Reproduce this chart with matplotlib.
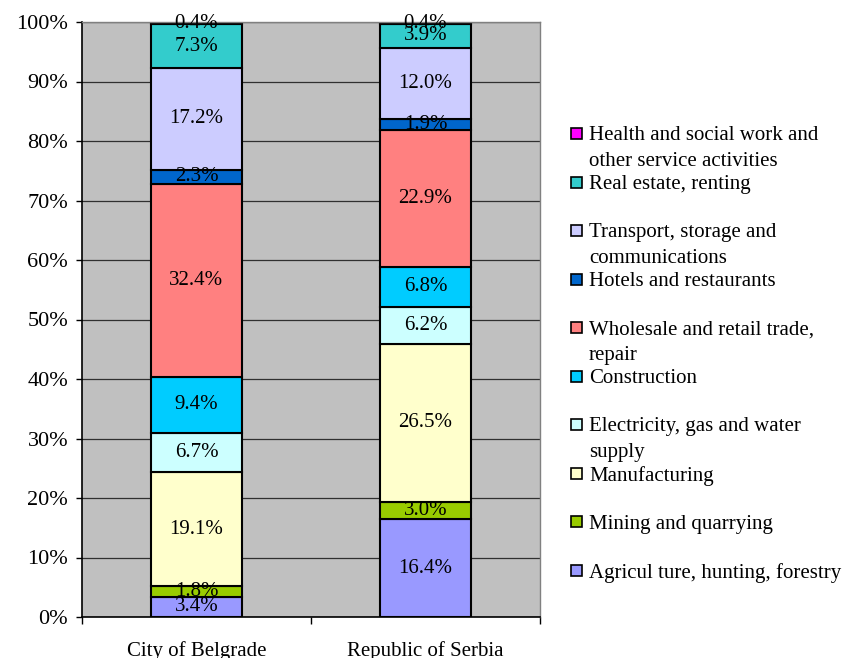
import matplotlib
matplotlib.use("Agg")
import matplotlib.pyplot as plt
from matplotlib.patches import Rectangle

plt.rcParams['font.family'] = ['Liberation Serif', 'DejaVu Serif']

regions = ["City of Belgrade", "Republic of Serbia"]
sectors = [
    "Agricul ture, hunting, forestry",
    "Mining and quarrying",
    "Manufacturing",
    "Electricity, gas and water\nsupply",
    "Construction",
    "Wholesale and retail trade,\nrepair",
    "Hotels and restaurants",
    "Transport, storage and\ncommunications",
    "Real estate, renting",
    "Health and social work and\nother service activities",
]
belgrade = [3.4, 1.8, 19.1, 6.7, 9.4, 32.4, 2.3, 17.2, 7.3, 0.4]
serbia = [16.4, 3.0, 26.5, 6.2, 6.8, 22.9, 1.9, 12.0, 3.9, 0.4]
colors = ["#9999FF", "#99CC00", "#FFFFCC", "#CCFFFF", "#00CCFF",
          "#FF8080", "#0066CC", "#CCCCFF", "#33CCCC", "#FF00FF"]
yticks = [0, 10, 20, 30, 40, 50, 60, 70, 80, 90, 100]

fig = plt.figure(figsize=(8.43, 6.58), dpi=100)
ax = fig.add_axes([82/843, 41/658, 458/843, 595/658])
ax.set_facecolor("#C0C0C0")
ax.set_axisbelow(True)
ax.yaxis.grid(True, color="#303030", linewidth=0.9)

x = [0, 1]
bottoms = [0.0, 0.0]
for i, sec in enumerate(sectors):
    vals = [belgrade[i], serbia[i]]
    ax.bar(x, vals, width=0.4, bottom=bottoms, color=colors[i],
           edgecolor="black", linewidth=1.5, zorder=2)
    for j in range(2):
        ax.text(x[j], bottoms[j] + vals[j] / 2, f"{vals[j]:.1f}%",
                ha="center", va="center", fontsize=15, zorder=3)
    bottoms = [bottoms[k] + vals[k] for k in range(2)]

ax.set_xlim(-0.5, 1.5)
ax.set_ylim(0, 100)
ax.set_yticks(yticks)
ax.set_yticklabels([f"{v}%" for v in yticks], fontsize=16)
ax.set_xticks(x)
ax.set_xticklabels(regions, fontsize=15)
ax.set_xticks([-0.5, 0.5, 1.5], minor=True)
ax.tick_params(axis="x", which="major", length=0, pad=17)
ax.tick_params(axis="x", which="minor", length=5, width=1, direction="out")
ax.tick_params(axis="y", length=4, width=1, direction="out", pad=6)
for s in ["top", "right"]:
    ax.spines[s].set_color("#808080")
    ax.spines[s].set_linewidth(1.0)
for s in ["left", "bottom"]:
    ax.spines[s].set_linewidth(1.2)

# manual legend (top entry = last sector)
W, H = 843, 658
y0 = 133.5
step = 48.5
for k, i in enumerate(reversed(range(len(sectors)))):
    yc = y0 + k * step
    fig.patches.append(Rectangle((571 / W, 1 - (yc + 5.5) / H), 11 / W, 11 / H,
                                 transform=fig.transFigure, facecolor=colors[i],
                                 edgecolor="black", linewidth=1.2))
    fig.text(589 / W, 1 - (yc - 7) / H, sectors[i], ha="left", va="top",
             fontsize=15, linespacing=1.45)

fig.savefig("out.png", dpi=100)
